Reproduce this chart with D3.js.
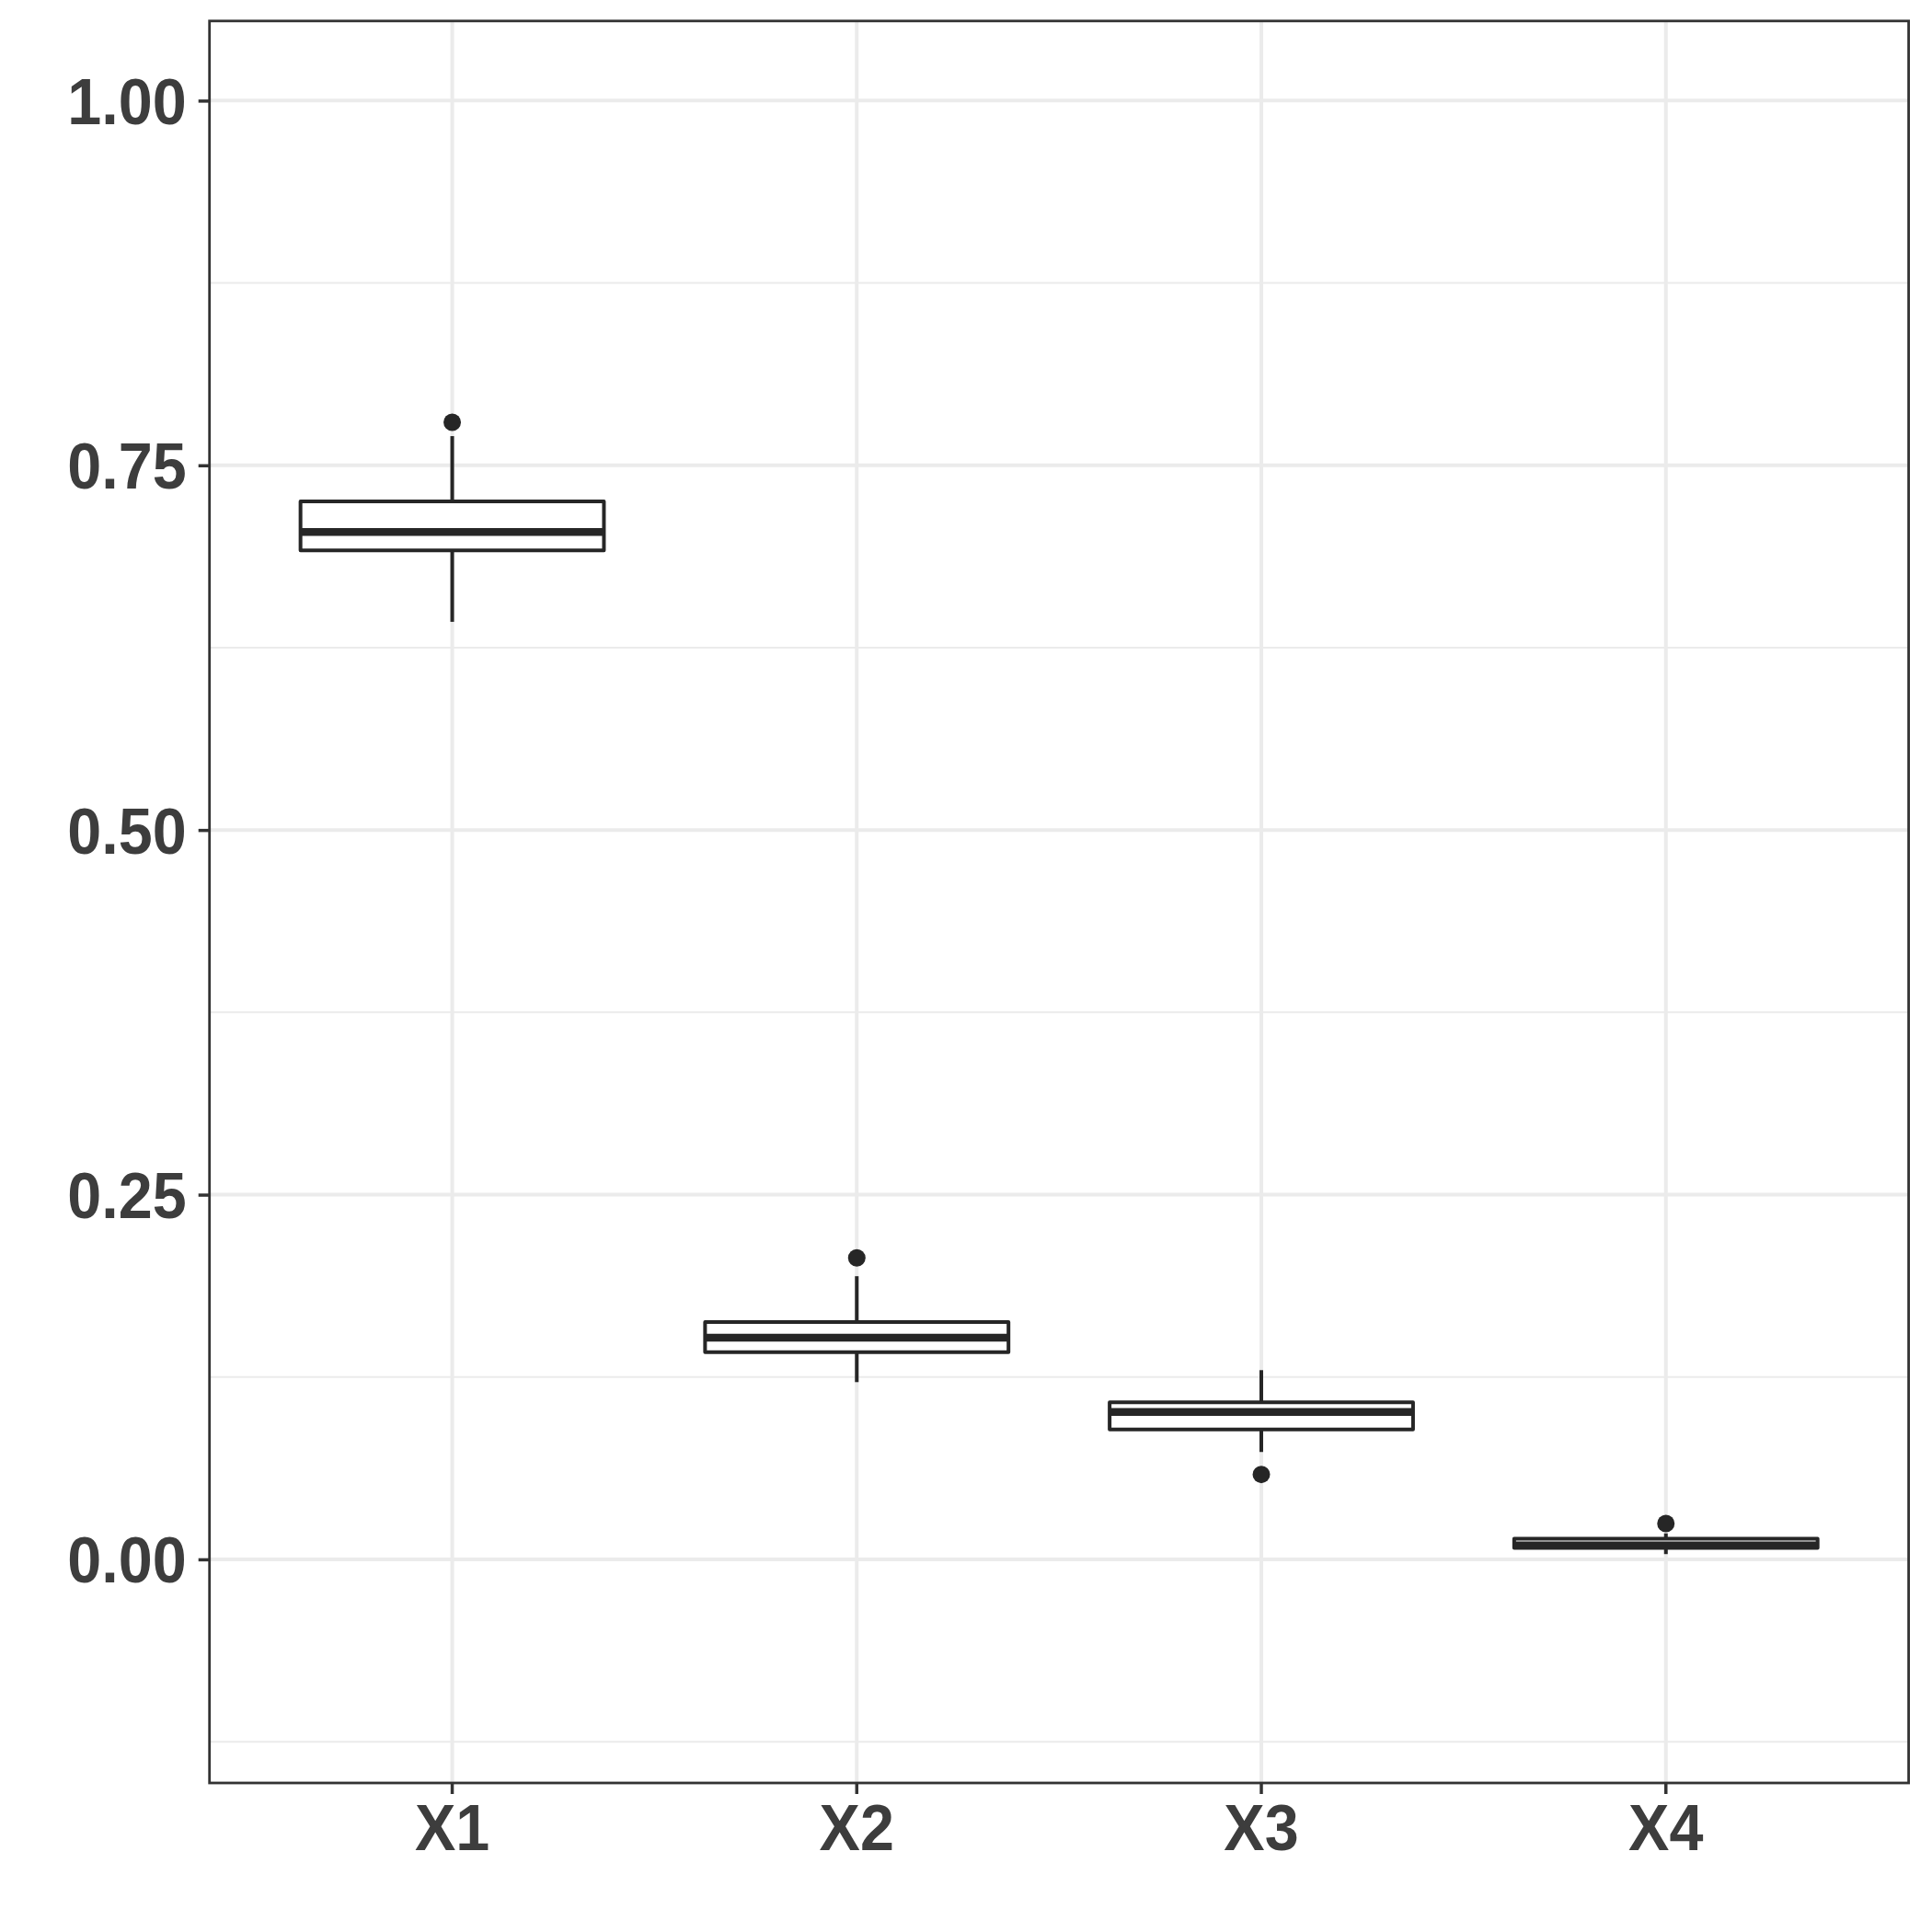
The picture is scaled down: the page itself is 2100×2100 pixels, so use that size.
<!DOCTYPE html>
<html><head><meta charset="utf-8">
<script src="https://cdn.jsdelivr.net/npm/d3@7"></script>
<style>body{margin:0;background:#fff}svg{display:block}</style></head>
<body><svg id="c" width="2100" height="2100"></svg>
<script>
const categories = ["X1", "X2", "X3", "X4"];
const q1 = [0.6917, 0.1421, 0.0891, 0.0078];
const median = [0.7043, 0.1520, 0.1011, 0.0096];
const q3 = [0.7253, 0.1627, 0.1077, 0.0142];
const whiskerLow = [0.6427, 0.1215, 0.0736, 0.0036];
const whiskerHigh = [0.7700, 0.1941, 0.1297, 0.0178];
const outliers = [[0.7795], [0.2067], [0.0582], [0.0246]];
const yTicks = [0, 0.25, 0.5, 0.75, 1];
const yTickLabels = ["0.00", "0.25", "0.50", "0.75", "1.00"];
const yMinor = [-0.125, 0.125, 0.375, 0.625, 0.875];

const svg = d3.select("#c");
svg.append("rect").attr("width", 2100).attr("height", 2100).attr("fill", "#fff");
const L = 227.7, R = 2074.6, T = 22.8, B = 1938;
const x = d3.scalePoint().domain(categories).range([L, R]).padding(0.6);
const y = d3.scaleLinear().domain([-0.1533, 1.0546]).range([B, T]);
const bw = x.step() * 0.75;
const lw = 4, ink = "#262626", txt = "#3d3d3d", sx = 0.95, fs = 70;

const grid = svg.append("g");
grid.selectAll(".mn").data(yMinor).join("line")
  .attr("x1", L).attr("x2", R).attr("y1", d => y(d)).attr("y2", d => y(d))
  .attr("stroke", "#ebebeb").attr("stroke-width", 2);
grid.selectAll(".mj").data(yTicks).join("line")
  .attr("x1", L).attr("x2", R).attr("y1", d => y(d)).attr("y2", d => y(d))
  .attr("stroke", "#ebebeb").attr("stroke-width", 4);
grid.selectAll(".vx").data(categories).join("line")
  .attr("x1", d => x(d)).attr("x2", d => x(d)).attr("y1", T).attr("y2", B)
  .attr("stroke", "#ebebeb").attr("stroke-width", 4);

const data = categories.map((c, i) => ({c, q1: q1[i], med: median[i], q3: q3[i], lo: whiskerLow[i], hi: whiskerHigh[i], out: outliers[i]}));
const g = svg.append("g");
const bx = g.selectAll("g.box").data(data).join("g");
bx.append("line").attr("x1", d => x(d.c)).attr("x2", d => x(d.c))
  .attr("y1", d => y(d.hi)).attr("y2", d => y(d.q3)).attr("stroke", ink).attr("stroke-width", lw);
bx.append("line").attr("x1", d => x(d.c)).attr("x2", d => x(d.c))
  .attr("y1", d => y(d.q1)).attr("y2", d => y(d.lo)).attr("stroke", ink).attr("stroke-width", lw);
bx.append("rect").attr("x", d => x(d.c) - bw / 2).attr("width", bw)
  .attr("y", d => y(d.q3)).attr("height", d => y(d.q1) - y(d.q3))
  .attr("fill", "#fff").attr("stroke", ink).attr("stroke-width", lw).attr("stroke-linejoin", "round");
bx.append("line").attr("x1", d => x(d.c) - bw / 2).attr("x2", d => x(d.c) + bw / 2)
  .attr("y1", d => y(d.med)).attr("y2", d => y(d.med)).attr("stroke", ink).attr("stroke-width", 8.5);
bx.selectAll("circle").data(d => d.out.map(v => ({c: d.c, v}))).join("circle")
  .attr("cx", d => x(d.c)).attr("cy", d => y(d.v)).attr("r", 9.5).attr("fill", ink);

svg.append("rect").attr("x", L).attr("y", T).attr("width", R - L).attr("height", B - T)
  .attr("fill", "none").attr("stroke", "#333333").attr("stroke-width", 2.8);

// Y axis
const ya = svg.append("g").attr("transform", `translate(${L},0)`)
  .call(d3.axisLeft(y).tickValues(yTicks).tickFormat((d, i) => yTickLabels[i]).tickSize(12).tickPadding(12));
ya.select(".domain").remove();
ya.selectAll(".tick line").attr("stroke", "#333333").attr("stroke-width", 3.5);
ya.selectAll(".tick text")
  .attr("x", -25 / sx).attr("dy", null).attr("y", 25)
  .attr("transform", `scale(${sx},1)`)
  .attr("fill", txt).attr("font-family", "'Liberation Sans', Arial, sans-serif")
  .attr("font-weight", "bold").attr("font-size", fs).attr("text-anchor", "end");

// X axis
const xa = svg.append("g").attr("transform", `translate(0,${B})`)
  .call(d3.axisBottom(x).tickSize(12).tickPadding(12));
xa.select(".domain").remove();
xa.selectAll(".tick line").attr("stroke", "#333333").attr("stroke-width", 3.5);
xa.selectAll(".tick text")
  .attr("dy", null).attr("y", 73)
  .attr("transform", `scale(${sx},1)`)
  .attr("fill", txt).attr("font-family", "'Liberation Sans', Arial, sans-serif")
  .attr("font-weight", "bold").attr("font-size", fs).attr("text-anchor", "middle");
xa.selectAll(".tick").attr("transform", d => `translate(${x(d)},0)`);
</script></body></html>
